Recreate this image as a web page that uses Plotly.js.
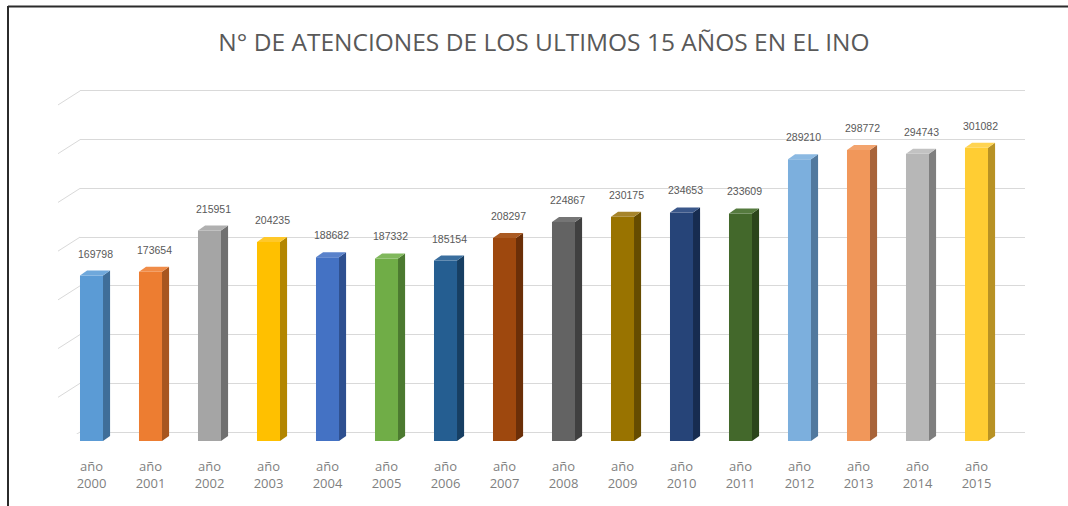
<!DOCTYPE html>
<html>
<head>
<meta charset="utf-8">
<script src="https://cdn.plot.ly/plotly-3.0.1.min.js"></script>
<style>html,body{margin:0;padding:0;background:#fff;}#chart{width:1068px;height:506px;}</style>
</head>
<body>
<div id="chart"></div>
<script>
const years = ["2000","2001","2002","2003","2004","2005","2006","2007","2008","2009","2010","2011","2012","2013","2014","2015"];
const categoryLabels = years.map(y => "año<br>" + y);
const atenciones = [169798,173654,215951,204235,188682,187332,185154,208297,224867,230175,234653,233609,289210,298772,294743,301082];
const frontColors = ["#5B9BD5","#ED7D31","#A5A5A5","#FFC000","#4472C4","#70AD47","#255E91","#9E480E","#636363","#997300","#264478","#43682B","#7CAFDD","#F1975A","#B7B7B7","#FFCD33"];
const sideColors = ["#3F6E99","#A8561F","#707070","#B38600","#2E5090","#4C7A30","#173F63","#6B2F08","#404040","#664C00","#172C50","#2B451B","#52799E","#A8643A","#7F7F7F","#B89224"];
const topColors = ["#6FA8DB","#F08C48","#B0B0B0","#FFC829","#5A82CB","#80B85C","#3A6E9E","#AA5A22","#757575","#A6842A","#3A578A","#557A3E","#8BB9E2","#F3A46E","#C2C2C2","#FFD452"];
const gridTicks = [0,50000,100000,150000,200000,250000,300000,350000];
const titleText = "N° DE ATENCIONES DE LOS ULTIMOS 15 AÑOS EN EL INO";

const W = 1068, H = 506;
const px = v => v / W;
const py = v => 1 - v / H;

const idx = years.map((_, i) => i);
const halfW = 0.195;          // half width of the front face (category units)
const depthX = 0.12;          // horizontal depth of the 3D effect (category units)
const depthY = 350000 / 341 * 5; // vertical depth of the 3D effect (5 px in value units)

const traces = [
  { type: "scatter", x: [0], y: [0], xaxis: "x", yaxis: "y", mode: "markers",
    marker: { opacity: 0 }, hoverinfo: "skip", showlegend: false },
  { type: "bar", x: idx, y: atenciones, xaxis: "x2", yaxis: "y2",
    width: 2 * halfW, offset: -halfW, marker: { color: frontColors, line: { width: 0 } },
    showlegend: false, hoverinfo: "y" }
];
atenciones.forEach((v, i) => {
  traces.push({ type: "scatter", xaxis: "x2", yaxis: "y2", mode: "lines", fill: "toself",
    x: [i + halfW, i + halfW + depthX, i + halfW + depthX, i + halfW, i + halfW],
    y: [0, depthY, v + depthY, v, 0],
    fillcolor: sideColors[i], line: { width: 0, color: sideColors[i] },
    hoverinfo: "skip", showlegend: false });
  traces.push({ type: "scatter", xaxis: "x2", yaxis: "y2", mode: "lines", fill: "toself",
    x: [i - halfW, i - halfW + depthX, i + halfW + depthX, i + halfW, i - halfW],
    y: [v, v + depthY, v + depthY, v, v],
    fillcolor: topColors[i], line: { width: 0, color: topColors[i] },
    hoverinfo: "skip", showlegend: false });
});

const annotations = atenciones.map((v, i) => ({
  xref: "x2", yref: "y2", x: i, y: v, text: String(v), showarrow: false,
  xshift: 4, yshift: 22, yanchor: "middle",
  font: { family: "Liberation Sans, Arial, sans-serif", size: 10.5, color: "#595959" }
}));

const shapes = gridTicks.map(t => ({
  type: "line", xref: "paper", yref: "y", xsizemode: "pixel", ysizemode: "pixel",
  xanchor: px(80), yanchor: t, x0: -22, x1: 0, y0: -14, y1: 0,
  line: { color: "#d9d9d9", width: 1 }, layer: "below"
}));
shapes.push({ type: "line", xref: "paper", yref: "paper", x0: px(8), x1: 1, y0: py(6.5), y1: py(6.5), line: { color: "#2b2b2b", width: 2 } });
shapes.push({ type: "line", xref: "paper", yref: "paper", x0: px(8), x1: px(8), y0: py(6), y1: 0, line: { color: "#2b2b2b", width: 2 } });

const layout = {
  width: W, height: H,
  margin: { l: 0, r: 0, t: 0, b: 0 },
  paper_bgcolor: "#ffffff", plot_bgcolor: "rgba(0,0,0,0)",
  barmode: "overlay",
  title: { text: titleText, x: px(544), xanchor: "center", y: py(42), yanchor: "middle",
    font: { family: "Open Sans, sans-serif", size: 24.5, color: "#595959" } },
  xaxis: { domain: [px(80), px(1025)], range: [0, 1], visible: false, fixedrange: true },
  yaxis: { domain: [py(434), py(89)], range: [-2000, 352000], tickvals: gridTicks,
    showticklabels: false, showgrid: true, gridcolor: "#d9d9d9", gridwidth: 1,
    zeroline: false, showline: false, ticks: "" },
  xaxis2: { domain: [px(62), px(1006)], range: [-0.5, 15.5], anchor: "y2",
    tickvals: idx, ticktext: categoryLabels, ticks: "", showgrid: false, zeroline: false,
    showline: false, ticklabelstandoff: 16,
    tickfont: { family: "Open Sans, sans-serif", size: 13, color: "#7f7f7f" } },
  yaxis2: { domain: [py(441), py(100)], range: [0, 350000], anchor: "x2",
    visible: false, showgrid: false, zeroline: false },
  annotations: annotations,
  shapes: shapes
};

Plotly.newPlot("chart", traces, layout, { displayModeBar: false, staticPlot: true });
</script>
</body>
</html>
